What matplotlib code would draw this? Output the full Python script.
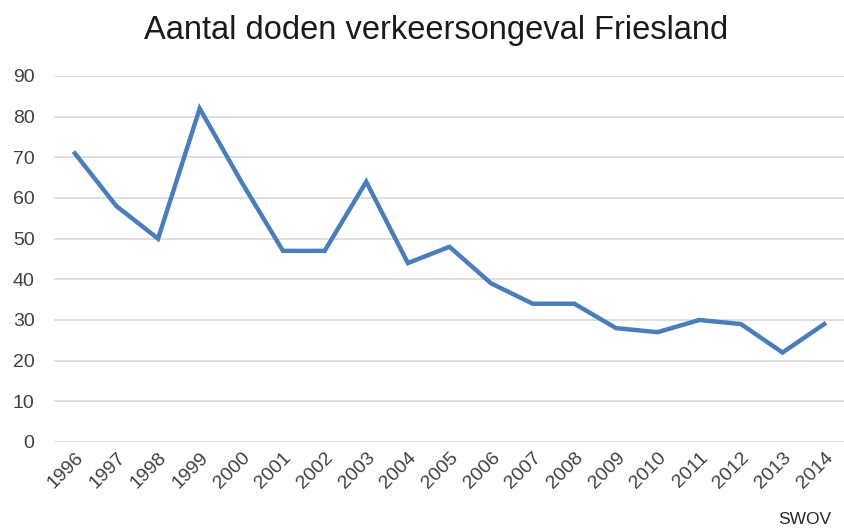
import matplotlib
matplotlib.use("Agg")
import matplotlib.pyplot as plt

plt.rcParams['font.family'] = ['Liberation Sans', 'DejaVu Sans']

years = [str(y) for y in range(1996, 2015)]
doden = [71, 58, 50, 82, 64, 47, 47, 64, 44, 48, 39, 34, 34, 28, 27, 30, 29, 22, 29]

fig = plt.figure(figsize=(8.45, 5.32), dpi=100)
ax = fig.add_axes([54 / 845, 1 - 442 / 532, 1 - 54 / 845, (442 - 76) / 532])

x = list(range(len(years)))
ax.plot(x, doden, color='#4a7ebb', linewidth=3.2, solid_joinstyle='miter')

ax.set_xlim(-0.5, len(years) - 0.5)
ax.set_ylim(0, 90)
ax.set_yticks(range(0, 91, 10))
ax.set_xticks(x)
ax.set_xticklabels(years, rotation=45, ha='right', va='top', rotation_mode='anchor')

ax.grid(axis='y', color='#d9d9d9', linewidth=1.2)
ax.set_axisbelow(True)
for s in ax.spines.values():
    s.set_visible(False)
ax.tick_params(length=0, labelsize=14, colors='#404040')
ax.tick_params(axis='y', pad=14)
ax.tick_params(axis='x', pad=5)

fig.text(436 / 845, 1 - 30 / 532, 'Aantal doden verkeersongeval Friesland',
         ha='center', va='center', fontsize=23.5, color='#1a1a1a')
fig.text(805 / 845, 1 - 520 / 532, 'SWOV', ha='center', va='center',
         fontsize=12.5, color='#262626')

fig.savefig('out.png', dpi=100)
